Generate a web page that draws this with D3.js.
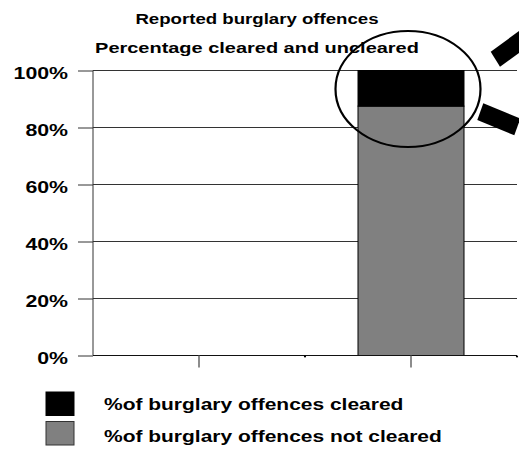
<!DOCTYPE html>
<html>
<head>
<meta charset="utf-8">
<script src="https://cdn.jsdelivr.net/npm/d3@7"></script>
<style>
  html, body { margin: 0; padding: 0; background: #fff; }
  svg { display: block; }
  text { font-family: "Liberation Sans", Arial, sans-serif; font-weight: bold; fill: #000; }
</style>
</head>
<body>
<svg id="chart" width="519" height="449"></svg>
<script>
// Category slots along the x axis (no labels printed under the ticks)
const categories = ["Period 1", "Period 2"];
const tickLabels = ["", ""];
// Share of reported burglary offences, in percent
const clearedPct = [0, 12.5];
const notClearedPct = [0, 87.5];
const yTicks = [0, 20, 40, 60, 80, 100];
const titleLines = ["Reported burglary offences", "Percentage cleared and uncleared"];
const seriesNames = ["%of burglary offences cleared", "%of burglary offences not cleared"];
const seriesColors = ["#000000", "#808080"];

const svg = d3.select("#chart");
const plotLeft = 93, plotRight = 517, plotTop = 70.5, plotBottom = 355.5;
const STRETCH = 1.33;

// widen glyphs horizontally, the way the lettering is set
function stretch(sel, k) {
  sel.each(function () {
    const w = this.getComputedTextLength();
    d3.select(this).attr("textLength", w * k).attr("lengthAdjust", "spacingAndGlyphs");
  });
}

const x = d3.scaleBand().domain(categories).range([plotLeft, plotRight])
  .paddingInner(0.5).paddingOuter(0.25);
const y = d3.scaleLinear().domain([0, 100]).range([plotBottom, plotTop]);

// gridlines
svg.append("g").selectAll("line").data(yTicks.filter(d => d > 0)).join("line")
  .attr("x1", plotLeft).attr("x2", plotRight)
  .attr("y1", d => y(d)).attr("y2", d => y(d))
  .attr("stroke", "#333").attr("stroke-width", 1);

// stacked bars
const rows = categories.map((c, i) => ({ cat: c, notCleared: notClearedPct[i], cleared: clearedPct[i] }));
const stack = d3.stack().keys(["notCleared", "cleared"])(rows);
const fills = { notCleared: seriesColors[1], cleared: seriesColors[0] };
svg.append("g").selectAll("g").data(stack).join("g")
  .attr("fill", d => fills[d.key])
  .selectAll("rect").data(d => d.filter(p => p[1] - p[0] > 0)).join("rect")
  .attr("x", d => x(d.data.cat))
  .attr("width", x.bandwidth())
  .attr("y", d => y(d[1]))
  .attr("height", d => y(d[0]) - y(d[1]))
  .attr("stroke", "#000").attr("stroke-width", 1);

// y axis
const yAxis = svg.append("g").attr("transform", `translate(${plotLeft},0)`)
  .call(d3.axisLeft(y).tickValues(yTicks).tickSize(15).tickPadding(10).tickFormat(d => d + "%"));
yAxis.select(".domain").attr("stroke", "#333").attr("d", `M0,${plotTop}V${plotBottom}`);
yAxis.selectAll(".tick line").attr("stroke", "#333");
yAxis.selectAll(".tick text").attr("dy", "0.52em").attr("x", -25)
  .style("font-size", "16px").style("font-family", "Liberation Sans, Arial, sans-serif")
  .style("font-weight", "bold").attr("fill", "#000")
  .call(stretch, STRETCH);

// x axis: long ticks at category centres, small marks at the slot edges
const xAxis = svg.append("g").attr("transform", `translate(0,${plotBottom})`)
  .call(d3.axisBottom(x).tickSize(12).tickFormat((d, i) => tickLabels[i]));
xAxis.select(".domain").attr("stroke", "#111").attr("d", `M${plotLeft},0H${plotRight}`);
xAxis.selectAll(".tick line").attr("stroke", "#666").attr("stroke-width", 1.5);
svg.append("g").selectAll("circle").data(categories.map(c => x(c) + x.bandwidth() / 2 + x.step() / 2)).join("circle")
  .attr("cx", d => d).attr("cy", plotBottom + 1).attr("r", 1.1).attr("fill", "#000");

// title
svg.append("g").selectAll("text").data(titleLines).join("text")
  .attr("x", 257).attr("y", (d, i) => i === 0 ? 24 : 53)
  .attr("text-anchor", "middle")
  .style("font-size", (d, i) => i === 0 ? "14px" : "15px")
  .text(d => d)
  .call(stretch, STRETCH);

// highlight ring round the top of the bar
const hi = categories[1];
const cx = x(hi) + x.bandwidth() / 2;
svg.append("ellipse")
  .attr("cx", cx - 3).attr("cy", 89).attr("rx", 72.5).attr("ry", 58)
  .attr("fill", "none").attr("stroke", "#000").attr("stroke-width", 2.2);

// magnifier handle strokes
svg.append("polygon").attr("points", "490.7,51.7 500,66.7 532.4,43.2 523,28.2").attr("fill", "#000");
svg.append("polygon").attr("points", "483.3,103.3 477.3,120 514.3,135.3 520.3,118.6").attr("fill", "#000");

// legend
const legend = svg.append("g");
seriesNames.forEach((name, i) => {
  const yy = 392 + i * 29.5;
  legend.append("rect").attr("x", 46).attr("y", yy).attr("width", 28).attr("height", 23.5)
    .attr("fill", seriesColors[i]).attr("stroke", i === 0 ? "#000" : "#333").attr("stroke-width", 1);
  legend.append("text").attr("x", 104).attr("y", 410 + i * 32)
    .style("font-size", "16px").text(name).call(stretch, STRETCH * 0.985);
});
</script>
</body>
</html>
